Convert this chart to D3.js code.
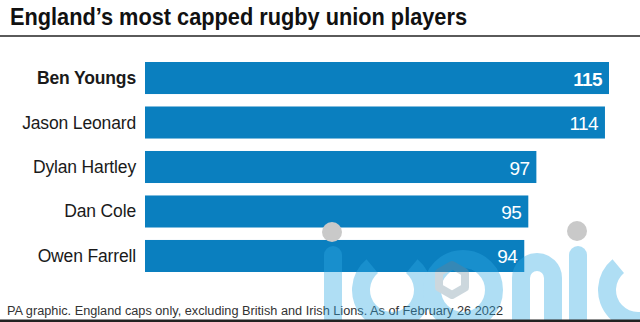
<!DOCTYPE html>
<html>
<head>
<meta charset="utf-8">
<script src="https://cdn.jsdelivr.net/npm/d3@7"></script>
<style>
  html, body { margin: 0; padding: 0; background: #fff; }
  svg { display: block; }
  text { font-family: "Liberation Sans", Arial, sans-serif; }
</style>
</head>
<body>
<svg id="chart" width="640" height="322"></svg>
<script>
const players = ["Ben Youngs", "Jason Leonard", "Dylan Hartley", "Dan Cole", "Owen Farrell"];
const caps = [115, 114, 97, 95, 94];
const highlighted = ["Ben Youngs"];
const titleText = "England\u2019s most capped rugby union players";
const footerText = "PA graphic. England caps only, excluding British and Irish Lions. As of February 26 2022";

const W = 640, H = 322;
const barColor = "#0a7fbf";
const svg = d3.select("#chart");

const data = players.map((p, i) => ({ name: p, value: caps[i] }));

const x = d3.scaleLinear().domain([0, 115]).range([145, 609]);
const y = d3.scaleBand().domain(players).range([62, 272]).paddingInner(0.28).paddingOuter(0);

// Title
svg.append("text")
  .attr("x", 10).attr("y", 25)
  .attr("font-size", 24.5).attr("font-weight", "bold").attr("fill", "#111")
  .attr("textLength", 457).attr("lengthAdjust", "spacingAndGlyphs")
  .text(titleText);
svg.append("rect").attr("x", 0).attr("y", 35).attr("width", W).attr("height", 2).attr("fill", "#5a5a5a");

// Bars
const g = svg.append("g");
g.selectAll("rect.bar").data(data).join("rect")
  .attr("class", "bar")
  .attr("x", x(0))
  .attr("y", d => y(d.name))
  .attr("width", d => x(d.value) - x(0))
  .attr("height", y.bandwidth())
  .attr("fill", barColor);

// Category labels
g.selectAll("text.lab").data(data).join("text")
  .attr("class", "lab")
  .attr("x", x(0) - 9)
  .attr("y", d => y(d.name) + y.bandwidth() / 2 + 6)
  .attr("text-anchor", "end")
  .attr("font-size", 17.5)
  .attr("letter-spacing", -0.15)
  .attr("font-weight", d => highlighted.includes(d.name) ? "bold" : "normal")
  .attr("fill", "#1a1a1a")
  .text(d => d.name);

// Value labels
g.selectAll("text.val").data(data).join("text")
  .attr("class", "val")
  .attr("x", d => x(d.value) - 7)
  .attr("y", d => y(d.name) + y.bandwidth() / 2 + 7.5)
  .attr("text-anchor", "end")
  .attr("font-size", 19)
  .attr("letter-spacing", -0.6)
  .attr("font-weight", d => highlighted.includes(d.name) ? "bold" : "normal")
  .attr("fill", "#fff")
  .text(d => d.value);

// Footer
svg.append("text")
  .attr("x", 7).attr("y", 315)
  .attr("font-size", 12).attr("fill", "#333")
  .attr("textLength", 496).attr("lengthAdjust", "spacingAndGlyphs")
  .text(footerText);

// Watermark (decorative overlay)
const wm = svg.append("g").attr("opacity", 0.38);
const wmColor = "#2fa9e4";
const sw = 18;
wm.append("line").attr("x1", 333).attr("x2", 333).attr("y1", 255).attr("y2", 345)
  .attr("stroke", wmColor).attr("stroke-width", sw).attr("stroke-linecap", "round");
const arc = d3.arc();
wm.append("path")
  .attr("transform", "translate(392,290)")
  .attr("d", arc({innerRadius: 22, outerRadius: 40, startAngle: Math.PI * 0.22, endAngle: Math.PI * 1.78, cornerRadius: 9}))
  .attr("fill", wmColor);
wm.append("circle").attr("cx", 463).attr("cy", 290).attr("r", 31)
  .attr("fill", "none").attr("stroke", wmColor).attr("stroke-width", sw);
const hex = d3.range(6).map(k => [452 + 15 * Math.cos(Math.PI / 3 * k + Math.PI / 6), 280 + 15 * Math.sin(Math.PI / 3 * k + Math.PI / 6)]);
wm.append("path").attr("d", "M" + hex.join("L") + "Z")
  .attr("fill", "none").attr("stroke", "#7b98a8").attr("stroke-width", 8).attr("stroke-linejoin", "round");
wm.append("path")
  .attr("d", "M521,345 V278 A16,16 0 0 1 553,278 V345")
  .attr("fill", "none").attr("stroke", wmColor).attr("stroke-width", sw).attr("stroke-linecap", "round");
wm.append("line").attr("x1", 578).attr("x2", 578).attr("y1", 255).attr("y2", 345)
  .attr("stroke", wmColor).attr("stroke-width", sw).attr("stroke-linecap", "round");
wm.append("path")
  .attr("transform", "translate(638,290)")
  .attr("d", arc({innerRadius: 22, outerRadius: 40, startAngle: Math.PI * 0.22, endAngle: Math.PI * 1.78, cornerRadius: 9}))
  .attr("fill", wmColor);
svg.append("circle").attr("cx", 332).attr("cy", 232).attr("r", 10).attr("fill", "#c9c9c9");
svg.append("circle").attr("cx", 577).attr("cy", 231).attr("r", 10).attr("fill", "#c9c9c9");

// Bottom rule
svg.append("rect").attr("x", 0).attr("y", 319.5).attr("width", W).attr("height", 2.5).attr("fill", "#222");
</script>
</body>
</html>
